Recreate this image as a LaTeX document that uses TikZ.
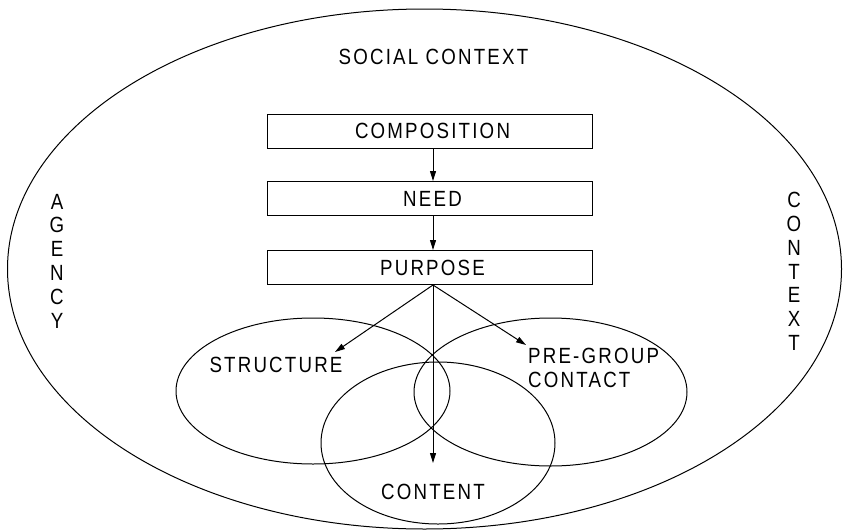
\documentclass[tikz,border=0pt]{standalone}
\usepackage{fontspec}
\setmainfont{Liberation Sans}[LetterSpace=10, FakeStretch=0.85]
\usetikzlibrary{arrows.meta,calc}
\tikzset{
  lbl/.style={inner sep=0pt, font=\fontsize{22}{23.8}\selectfont},
  stage/.style={draw, line width=1pt, minimum width=325pt, minimum height=34pt, inner sep=0pt, font=\fontsize{22}{24}\selectfont},
  flow/.style={line width=1pt, -{Triangle[length=10pt,width=6pt]}},
  ring/.style={draw, line width=1pt},
}
\begin{document}
\begin{tikzpicture}[x=1pt,y=-1pt]
\useasboundingbox (0,0) rectangle (843,530);
\draw[ring] (424.5,269) ellipse [x radius=417, y radius=260];
\node[lbl] (social) at (433.5,57) {SOCIAL CONTEXT};
\node[lbl, align=center] (agency) at (57,261) {A\\G\\E\\N\\C\\Y};
\node[lbl, align=center] (context) at (794,271.5) {C\\O\\N\\T\\E\\X\\T};

\node[stage] (comp) at (429.5,131) {\hspace*{6pt}COMPOSITION};
\node[stage] (need) at (429.5,198.5) {\hspace*{6pt}NEED};
\node[stage] (purp) at (429.5,267.5) {\hspace*{6pt}PURPOSE};

\draw[ring] (313,391) ellipse [x radius=137, y radius=73];
\draw[ring] (550.5,392) ellipse [x radius=136.5, y radius=74];
\draw[ring] (438,443) ellipse [x radius=117, y radius=81];

\node[lbl] (structure) at (276,365) {STRUCTURE};
\node[lbl, anchor=west, align=left] (pregroup) at (528,368) {PRE-GROUP\\CONTACT};
\node[lbl] (content) at (433,492) {CONTENT};

\coordinate (c1) at ($(comp.south)+(3.5,0)$);
\coordinate (n1) at ($(need.north)+(3.5,0)$);
\coordinate (n2) at ($(need.south)+(3.5,0)$);
\coordinate (p1) at ($(purp.north)+(3.5,0)$);
\coordinate (fork) at ($(purp.south)+(3.5,0)$);
\coordinate (stip) at (335,352);
\coordinate (ptip) at (526,345);
\coordinate (ctip) at (433,463);

\draw[flow] (c1) -- (n1);
\draw[flow] (n2) -- (p1);
\draw[flow] (fork) -- (stip);
\draw[flow] (fork) -- (ptip);
\draw[flow] (fork) -- (ctip);
\end{tikzpicture}
\end{document}
